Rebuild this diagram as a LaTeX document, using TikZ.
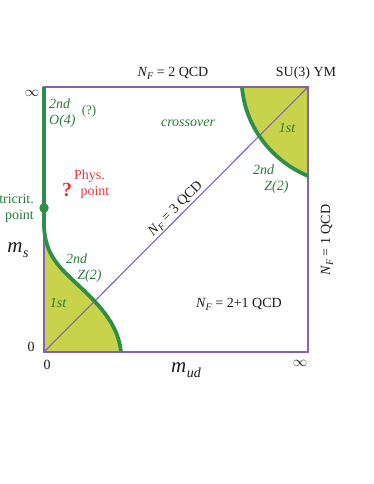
\documentclass[tikz,border=0pt]{standalone}
\usepackage{fontspec}
\setmainfont{Liberation Serif}
\usepackage{tikz}
\usetikzlibrary{positioning,calc}
\definecolor{ink}     {HTML}{1A1A1A}
\definecolor{lilac}   {HTML}{8462B0}
\definecolor{leaf}    {HTML}{2F8E47}
\definecolor{pear}    {HTML}{C9D24B}
\definecolor{physred} {HTML}{E8333F}
\colorlet{leaftext}{leaf!85!black}
\newcommand{\qcdfont}{\fontsize{14}{16}\selectfont}
\newcommand{\NF}{\textit{N}\kern-0.5pt\raisebox{-0.45ex}{\fontsize{10}{10}\selectfont\textit{F}}}
\newcommand{\mass}[1]{\textit{m}\kern0.5pt\raisebox{-0.5ex}{\fontsize{14}{14}\selectfont\textit{#1}}}
\tikzset{
  % --- lines
  frame/.style = {draw=lilac, line width=1.6pt},
  diag/.style  = {draw=lilac, line width=1.1pt},
  crit/.style  = {draw=leaf, line width=3.8pt},
  % --- nodes
  lbl/.style   = {font=\qcdfont, text=ink, inner sep=1pt},
  inf/.style   = {font=\fontsize{15}{15}\selectfont, text=ink, inner sep=0pt},
  axis/.style  = {font=\fontsize{21}{21}\selectfont, text=ink, inner sep=0pt},
  phase/.style = {font=\qcdfont\itshape, text=leaftext, align=left, inner sep=1pt},
  phys/.style  = {font=\qcdfont, text=physred, align=left, inner sep=1pt},
  tcdot/.style = {circle, fill=leaf, inner sep=0pt, minimum size=9.5pt},
}
\begin{document}
\begin{tikzpicture}[x=1pt,y=1pt]
  \useasboundingbox (0,0) rectangle (374,484);
  % corners of the (m_ud, m_s) plane
  \coordinate (O)  at (44,132);
  \coordinate (ud) at (308,132);
  \coordinate (s)  at (44,397);
  \coordinate (ym) at (308,397);
  % ends of the Z(2) lines
  \coordinate (tc) at (44,258);
  \coordinate (zb) at (121,132);
  \coordinate (zt) at (242,397);
  \coordinate (zr) at (308,308);

  % first order corners
  \fill[pear] (O) -- (tc) .. controls (45,229) and (60,216) .. (76,201)
              .. controls (96,182) and (118,162) .. (zb) -- cycle;
  \fill[pear] (zt) -- (ym) -- (zr) .. controls (270,324) and (245,359) .. (zt) -- cycle;

  \draw[frame] (O) rectangle (ym);
  \draw[diag] (O) -- node[lbl, sloped, above, pos=0.52] (nf3) {\NF{} = 3 QCD} (ym);

  \draw[crit] (s) -- (tc) .. controls (45,229) and (60,216) .. (76,201)
              .. controls (96,182) and (118,162) .. (zb);
  \draw[crit] (zt) .. controls (245,359) and (270,324) .. (zr);
  \node[tcdot] (tcp) at (44,276) {};

  % edges and corners
  \node[lbl] (nf2)  at (173,411) {\NF{} = 2 QCD};
  \node[lbl] (su3)  at (306,411) {SU(3) YM};
  \node[lbl, rotate=90] (nf1) at (327,244) {\NF{} = 1 QCD};
  \node[lbl] (nf21) at (239,180) {\NF{} = 2+1 QCD};
  \node[inf] (infs)  at (32,391) {$\infty$};
  \node[inf] (infud) at (300,121) {$\infty$};
  \node[lbl] (zs)  at (31,137) {0};
  \node[lbl] (zud) at (47,119) {0};
  \node[axis] (ms)  at (18,234) {\mass{s}};
  \node[axis] (mud) at (186,114) {\mass{ud}};

  % phase labels
  \node[phase, anchor=west] (o4) at (48,371) {2nd\\O(4)};
  \node[phase, font=\fontsize{13}{13}\selectfont] (o4q) at (89,373) {(?)};
  \node[phase] (xover) at (188,361) {crossover};
  \node[phase, anchor=west] (z2lo) at (65,216) {2nd\\\hspace*{0.8em}Z(2)};
  \node[phase, anchor=west] (z2hi) at (252,305) {2nd\\\hspace*{0.8em}Z(2)};
  \node[phase] (fo1) at (58,181) {1st};
  \node[phase] (fo2) at (287,356) {1st};
  \node[phase, font=\qcdfont, align=right, left=4pt of tcp] (tclbl) {tricrit.\\point};

  % physical point
  \node[phys, font=\fontsize{20}{20}\selectfont\bfseries] (qm) at (67,294) {?};
  \node[phys, anchor=west] (pp) at (73,300) {Phys.\\\hspace*{0.45em}point};
\end{tikzpicture}
\end{document}
